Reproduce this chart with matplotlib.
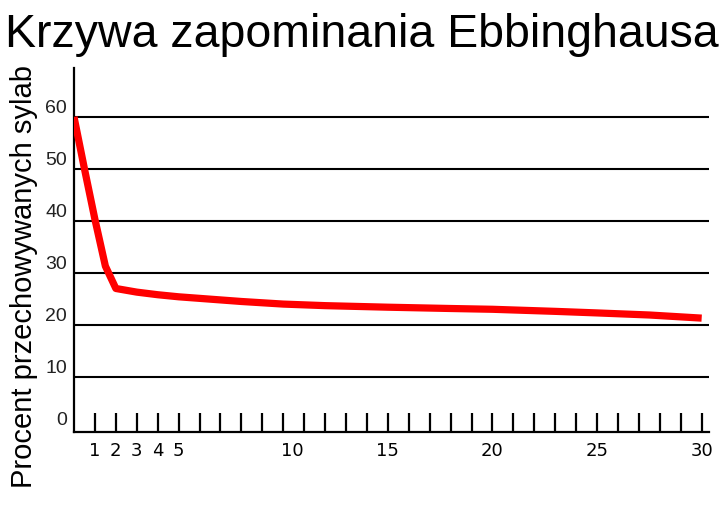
import matplotlib
matplotlib.use("Agg")
import matplotlib.pyplot as plt
import matplotlib.transforms as mtransforms

# Data
days = [0, 0.5, 1, 1.5, 2, 3, 4, 5, 6, 8, 10, 12, 15, 18, 20, 23, 25, 27.5, 30]
retained = [60, 50, 40.3, 31.3, 27, 26.3, 25.8, 25.4, 25.1, 24.5, 24.0, 23.7,
            23.4, 23.15, 23.0, 22.6, 22.3, 21.9, 21.3]
x_marks = list(range(1, 31))
x_labels = [1, 2, 3, 4, 5, 10, 15, 20, 25, 30]
y_ticks = [0, 10, 20, 30, 40, 50, 60]
title = "Krzywa zapominania Ebbinghausa"
ylabel = "Procent przechowywanych sylab"

W, H = 728, 512
fig = plt.figure(figsize=(W / 100, H / 100), dpi=100)
ax = fig.add_axes([74 / W, 80 / H, 635 / W, 364 / H])
ax.set_xlim(0, 30.35)
ax.set_ylim(-0.6, 69.4)

# grid lines
for yv in y_ticks[1:]:
    ax.axhline(yv, color="black", lw=1.5, zorder=1)

ax.plot(days, retained, color="#ff0000", lw=5.2, solid_capstyle="butt",
        solid_joinstyle="round", zorder=3)

for s in ["top", "right"]:
    ax.spines[s].set_visible(False)
for s in ["left", "bottom"]:
    ax.spines[s].set_linewidth(1.6)
    ax.spines[s].set_color("black")

# x ticks: minor marks at every integer, major labels
ax.set_xticks(x_marks, minor=True)
ax.tick_params(axis="x", which="minor", direction="in", length=14, width=1.6, color="black")
ax.set_xticks(x_labels)
ax.set_xticklabels([str(v) for v in x_labels], fontfamily="DejaVu Sans", fontsize=13)
ax.tick_params(axis="x", which="major", direction="in", length=14, width=1.6, pad=7)
for lab in ax.get_xticklabels():
    if lab.get_text() == "10":
        lab.set_transform(lab.get_transform() + mtransforms.ScaledTranslation(0.09, 0, fig.dpi_scale_trans))

ax.set_yticks(y_ticks)
ax.set_yticklabels([str(v) for v in y_ticks], fontfamily="Liberation Sans", fontsize=14, color="#222222")
ax.tick_params(axis="y", length=0, pad=5)
for lab in ax.get_yticklabels():
    lab.set_verticalalignment("bottom")

fig.text(362 / W, 1 - 47 / H, title, ha="center", va="baseline",
         fontfamily="Liberation Sans", fontsize=33.5)
fig.text(24 / W, 1 - 276 / H, ylabel, ha="center", va="center", rotation=90,
         fontfamily="Liberation Sans", fontsize=21)

fig.savefig("out.png", dpi=100)
